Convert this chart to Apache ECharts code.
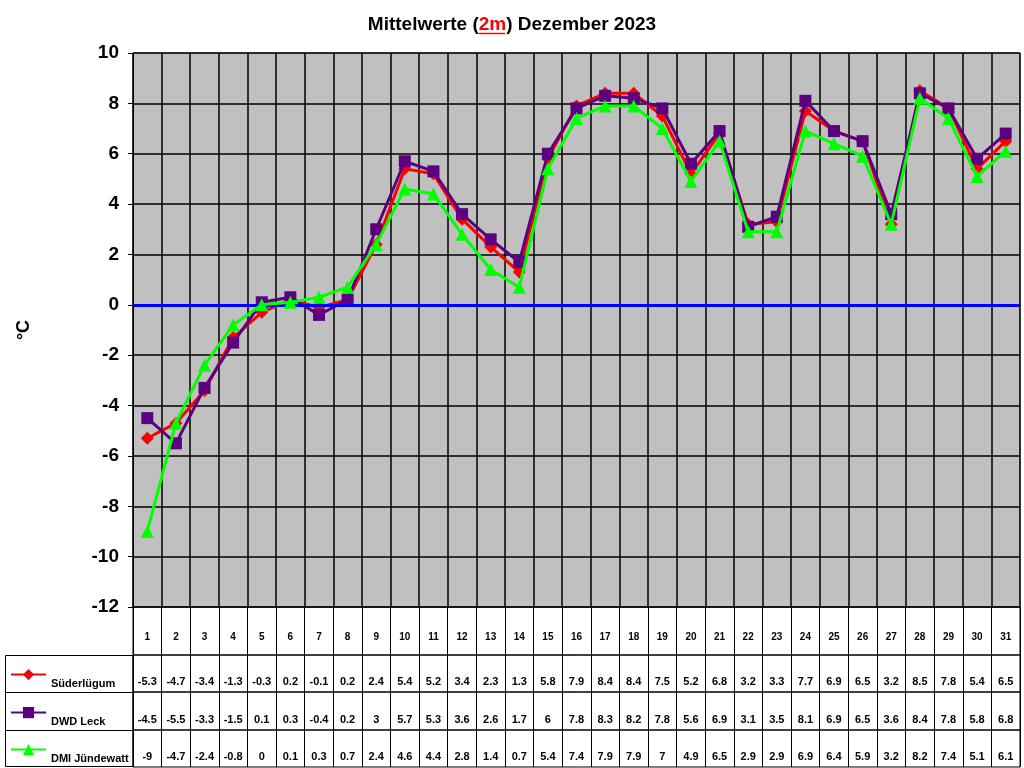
<!DOCTYPE html>
<html lang="de">
<head>
<meta charset="UTF-8">
<title>Mittelwerte (2m) Dezember 2023</title>
<script src="https://cdn.jsdelivr.net/npm/echarts@6/dist/echarts.min.js"></script>
<style>
  html, body { margin: 0; padding: 0; background: #fff; }
  #chart { width: 1024px; height: 768px; }
</style>
</head>
<body>
<div id="chart"></div>
<script>
// Tage im Dezember
var days = [];
for (var d = 1; d <= 31; d++) days.push(String(d));

var names = ['Süderlügum', 'DWD Leck', 'DMI Jündewatt'];
var colors = ['#FF0000', '#5C0080', '#00FF00'];

var suederluegum = [-5.3, -4.7, -3.4, -1.3, -0.3, 0.2, -0.1, 0.2, 2.4, 5.4, 5.2, 3.4, 2.3, 1.3, 5.8,
  7.9, 8.4, 8.4, 7.5, 5.2, 6.8, 3.2, 3.3, 7.7, 6.9, 6.5, 3.2, 8.5, 7.8, 5.4, 6.5];
var dwdLeck = [-4.5, -5.5, -3.3, -1.5, 0.1, 0.3, -0.4, 0.2, 3, 5.7, 5.3, 3.6, 2.6, 1.7, 6,
  7.8, 8.3, 8.2, 7.8, 5.6, 6.9, 3.1, 3.5, 8.1, 6.9, 6.5, 3.6, 8.4, 7.8, 5.8, 6.8];
var dmiJuendewatt = [-9, -4.7, -2.4, -0.8, 0, 0.1, 0.3, 0.7, 2.4, 4.6, 4.4, 2.8, 1.4, 0.7, 5.4,
  7.4, 7.9, 7.9, 7, 4.9, 6.5, 2.9, 2.9, 6.9, 6.4, 5.9, 3.2, 8.2, 7.4, 5.1, 6.1];
var rows = [suederluegum, dwdLeck, dmiJuendewatt];

var font = 'Arial, "Liberation Sans", sans-serif';
var chart = echarts.init(document.getElementById('chart'));

// Tabellenzeilen unter dem Diagramm
var rowTops = [655, 692, 730];
var rowHeights = [37, 38, 37];

var grids = [
  {left: 133, right: 4, top: 53, bottom: 161, show: true, backgroundColor: '#C0C0C0',
   borderColor: '#808080', borderWidth: 1},
  {left: 133, right: 4, top: 607, height: 48, show: true, borderColor: '#000', borderWidth: 1}
];
var xAxes = [
  {type: 'category', data: days, gridIndex: 0, boundaryGap: true,
   axisLine: {lineStyle: {color: '#000', width: 1}},
   axisTick: {show: false}, axisLabel: {show: false},
   splitLine: {show: true, interval: 0, lineStyle: {color: '#000', width: 1.5}}},
  {type: 'category', data: days, gridIndex: 1, boundaryGap: true,
   axisLine: {show: false}, axisTick: {show: false},
   splitLine: {show: true, interval: 0, lineStyle: {color: '#000', width: 1}},
   axisLabel: {inside: true, margin: 13, interval: 0, fontFamily: font, fontWeight: 'bold',
     fontSize: 10, color: '#000'}}
];
var yAxes = [
  {type: 'value', gridIndex: 0, min: -12, max: 10, interval: 2,
   name: '°C', nameLocation: 'middle', nameGap: 100, nameRotate: 90,
   nameTextStyle: {fontFamily: font, fontWeight: 'bold', fontSize: 18, color: '#000'},
   axisLine: {show: true, lineStyle: {color: '#000', width: 1}},
   axisTick: {show: true, length: 5, lineStyle: {color: '#000'}},
   axisLabel: {margin: 14, fontFamily: font, fontWeight: 'bold', fontSize: 19, color: '#000'},
   splitLine: {show: true, lineStyle: {color: '#000', width: 1.5}}},
  {type: 'value', gridIndex: 1, show: false}
];

var legends = [];
var legendTops = [664, 702, 739];

rows.forEach(function (vals, i) {
  var gi = i + 2;
  grids.push({left: 133, right: 4, top: rowTops[i], height: rowHeights[i], show: true,
    borderColor: '#000', borderWidth: 1});
  xAxes.push({type: 'category', data: days, gridIndex: gi, boundaryGap: true,
    axisLine: {show: false}, axisTick: {show: false},
    splitLine: {show: true, interval: 0, lineStyle: {color: '#000', width: 1}},
    axisLabel: {inside: true, margin: 5, interval: 0, fontFamily: font, fontWeight: 'bold',
      fontSize: 11, color: '#000',
      formatter: function (v, idx) { return String(vals[idx]); }}});
  yAxes.push({type: 'value', gridIndex: gi, show: false});
  // je Tabellenzeile ein eigener Legendeneintrag
  legends.push({
    left: 5, top: legendTops[i],
    itemWidth: 35, itemHeight: 14,
    data: [names[i]],
    formatter: function (name) { return '{a|' + name + '}'; },
    textStyle: {fontFamily: font, fontWeight: 'bold', fontSize: 11, color: '#000',
      rich: {a: {fontFamily: font, fontWeight: 'bold', fontSize: 11, color: '#000', padding: [19, 0, 0, 0]}}}
  });
});

var series = rows.map(function (vals, i) {
  var s = {
    name: names[i],
    type: 'line',
    data: vals,
    symbol: ['diamond', 'rect', 'triangle'][i],
    symbolSize: [13, 12, 13][i],
    itemStyle: {color: colors[i]},
    lineStyle: {color: colors[i], width: 3},
    z: 3 + i
  };
  if (i === 0) {
    // Nulllinie
    s.markLine = {silent: true, symbol: 'none', label: {show: false},
      lineStyle: {color: '#0000FF', width: 3, type: 'solid'},
      data: [{yAxis: 0}]};
  }
  return s;
});

var option = {
  animation: false,
  backgroundColor: '#fff',
  title: {
    left: 'center', top: 10,
    text: 'Mittelwerte ({r|2m}) Dezember 2023',
    textStyle: {fontFamily: font, fontWeight: 'bold', fontSize: 19, color: '#000',
      rich: {r: {fontFamily: font, fontWeight: 'bold', fontSize: 19, color: '#FF0000'}}}
  },
  legend: legends,
  grid: grids,
  xAxis: xAxes,
  yAxis: yAxes,
  series: series,
  graphic: [
    {type: 'line', shape: {x1: 479, y1: 33.5, x2: 505, y2: 33.5}, style: {stroke: '#FF0000', lineWidth: 1.5}},
    {type: 'rect', shape: {x: 5.5, y: 655.5, width: 127.5, height: 111}, style: {stroke: '#000', fill: null, lineWidth: 1}},
    {type: 'line', shape: {x1: 5, y1: 692.5, x2: 133, y2: 692.5}, style: {stroke: '#000', lineWidth: 1}},
    {type: 'line', shape: {x1: 5, y1: 730.5, x2: 133, y2: 730.5}, style: {stroke: '#000', lineWidth: 1}}
  ]
};
chart.setOption(option);
</script>
</body>
</html>
